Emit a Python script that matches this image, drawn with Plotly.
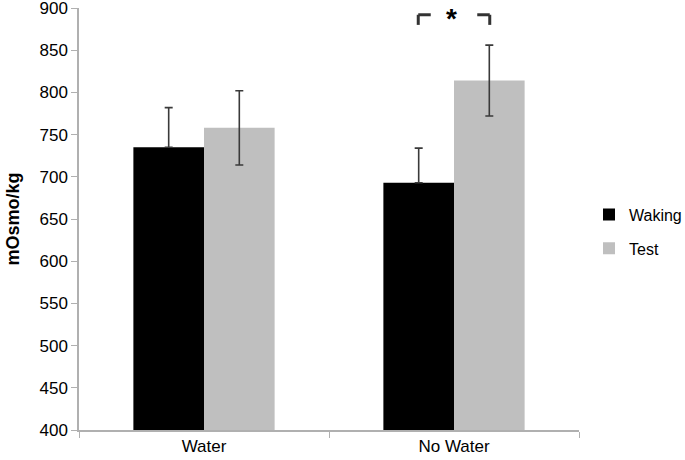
import plotly.graph_objects as go

categories = ["Water", "No Water"]
waking = [735, 693]
waking_err_plus = [47, 41]
waking_err_minus = [0, 0]
test = [758, 814]
test_err = [44, 42]
yticks = [400, 450, 500, 550, 600, 650, 700, 750, 800, 850, 900]

font = "Liberation Sans, Arial, sans-serif"
errstyle = dict(type="data", thickness=1.6, width=4, color="#3a3a3a")

fig = go.Figure()
fig.add_trace(go.Bar(x=categories, y=waking, name="Waking", marker_color="#000000",
                     marker_line_width=0, legendgroup="a",
                     error_y=dict(array=waking_err_plus, arrayminus=waking_err_minus,
                                  symmetric=False, **errstyle)))
fig.add_trace(go.Bar(x=categories, y=test, name="Test", marker_color="#bfbfbf",
                     marker_line_width=0, legendgroup="b",
                     error_y=dict(array=test_err, **errstyle)))

# significance bracket over "No Water"
lx, rx = 1 - 0.143, 1 + 0.143
ytop, ybot = 892, 880
for xs in [(lx, lx + 0.05), (rx, rx - 0.05)]:
    fig.add_shape(type="line", x0=xs[0], x1=xs[1], y0=ytop, y1=ytop, xref="x", yref="y",
                  line=dict(color="#333333", width=3))
    fig.add_shape(type="line", x0=xs[0], x1=xs[0], y0=ytop, y1=ybot, xref="x", yref="y",
                  line=dict(color="#333333", width=3))
fig.add_annotation(x=1 - 0.01, y=888, xref="x", yref="y", text="<b>*</b>", showarrow=False,
                   font=dict(size=28, color="#000000", family=font))

fig.update_layout(
    width=685, height=460,
    margin=dict(l=79, r=106, t=8, b=30, autoexpand=False),
    paper_bgcolor="white", plot_bgcolor="white",
    barmode="group", bargap=0.435, bargroupgap=0,
    font=dict(family=font, size=16, color="#000000"),
    showlegend=True,
    legend=dict(x=1.02, y=0.47, xanchor="left", yanchor="middle",
                font=dict(size=16), itemwidth=30, tracegroupgap=10),
    xaxis=dict(showline=True, linecolor="#b0b0b0", linewidth=1.5, automargin=False,
               ticks="outside", tickson="boundaries", ticklen=6, tickcolor="#b0b0b0",
               tickfont=dict(size=17), showgrid=False),
    yaxis=dict(range=[400, 900.01], tickvals=yticks, showline=True, linecolor="#b0b0b0",
               linewidth=1.5, ticks="outside", ticklen=6, tickcolor="#b0b0b0",
               automargin=False, ticklabeloverflow="allow",
               showgrid=False, zeroline=False, tickfont=dict(size=17),
               title=dict(text="<b>mOsmo/kg</b>", font=dict(size=18))),
)

fig.write_html("out.html", config={"displayModeBar": False},
               post_script="document.body.style.margin='0';")
